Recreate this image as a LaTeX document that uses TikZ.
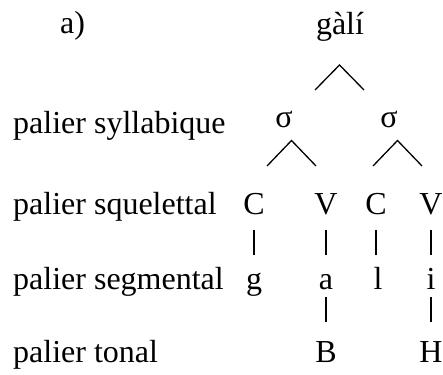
\documentclass[tikz,border=0pt]{standalone}
\usepackage{fontspec}
\setmainfont{Liberation Serif}
\begin{document}
\begin{tikzpicture}[x=1pt,y=-1pt,
  txt/.style={inner sep=0pt, font=\fontsize{32}{36}\selectfont},
  lbl/.style={txt, anchor=base west},
  sym/.style={txt, anchor=base},
  bar/.style={line width=1.4pt},
  branch/.style={line width=1.3pt}]
\useasboundingbox (0,0) rectangle (443,374);
% labels
\node[lbl] (la) at (60,34) {a)};
\node[lbl] (lsyl) at (13,133) {palier syllabique};
\node[lbl] (lsq) at (13,214) {palier squelettal};
\node[lbl] (lseg) at (13,289) {palier segmental};
\node[lbl] (lton) at (13,362) {palier tonal};
% word
\node[sym] (word) at (340,35) {gàlí};
% syllables
\node[sym] (s1) at (284,128) {σ};
\node[sym] (s2) at (389,128) {σ};
% skeleton
\node[sym] (c1) at (254,214) {C};
\node[sym] (v1) at (326,214) {V};
\node[sym] (c2) at (376,214) {C};
\node[sym] (v2) at (431,214) {V};
% segments
\node[sym] (g) at (254,289) {g};
\node[sym] (a) at (326,289) {a};
\node[sym] (l) at (378,289) {l};
\node[sym] (i) at (431,289) {i};
% tones
\node[sym] (B) at (326,362) {B};
\node[sym] (H) at (431,362) {H};
% branching carets
\coordinate (t0) at (339.5,65);
\coordinate (tl) at (315,90);
\coordinate (tr) at (364,90);
\draw[branch] (tl) -- (t0) -- (tr);
\coordinate (a1) at (291.5,140.5);
\coordinate (a1l) at (267,166);
\coordinate (a1r) at (316,166);
\draw[branch] (a1l) -- (a1) -- (a1r);
\coordinate (a2) at (397.5,140.5);
\coordinate (a2l) at (373,166);
\coordinate (a2r) at (422,166);
\draw[branch] (a2l) -- (a2) -- (a2r);
% association lines
\draw[bar, shorten <=16pt, shorten >=34pt] (c1.base) -- (c1.base |- g.base);
\draw[bar, shorten <=16pt, shorten >=34pt] (v1.base) -- (v1.base |- a.base);
\draw[bar, shorten <=16pt, shorten >=34pt] (c2.base) -- (c2.base |- l.base);
\draw[bar, shorten <=16pt, shorten >=34pt] (v2.base) -- (v2.base |- i.base);
\draw[bar, shorten <=8pt, shorten >=40pt] (a.base) -- (a.base |- B.base);
\draw[bar, shorten <=8pt, shorten >=40pt] (i.base) -- (i.base |- H.base);
\end{tikzpicture}
\end{document}
